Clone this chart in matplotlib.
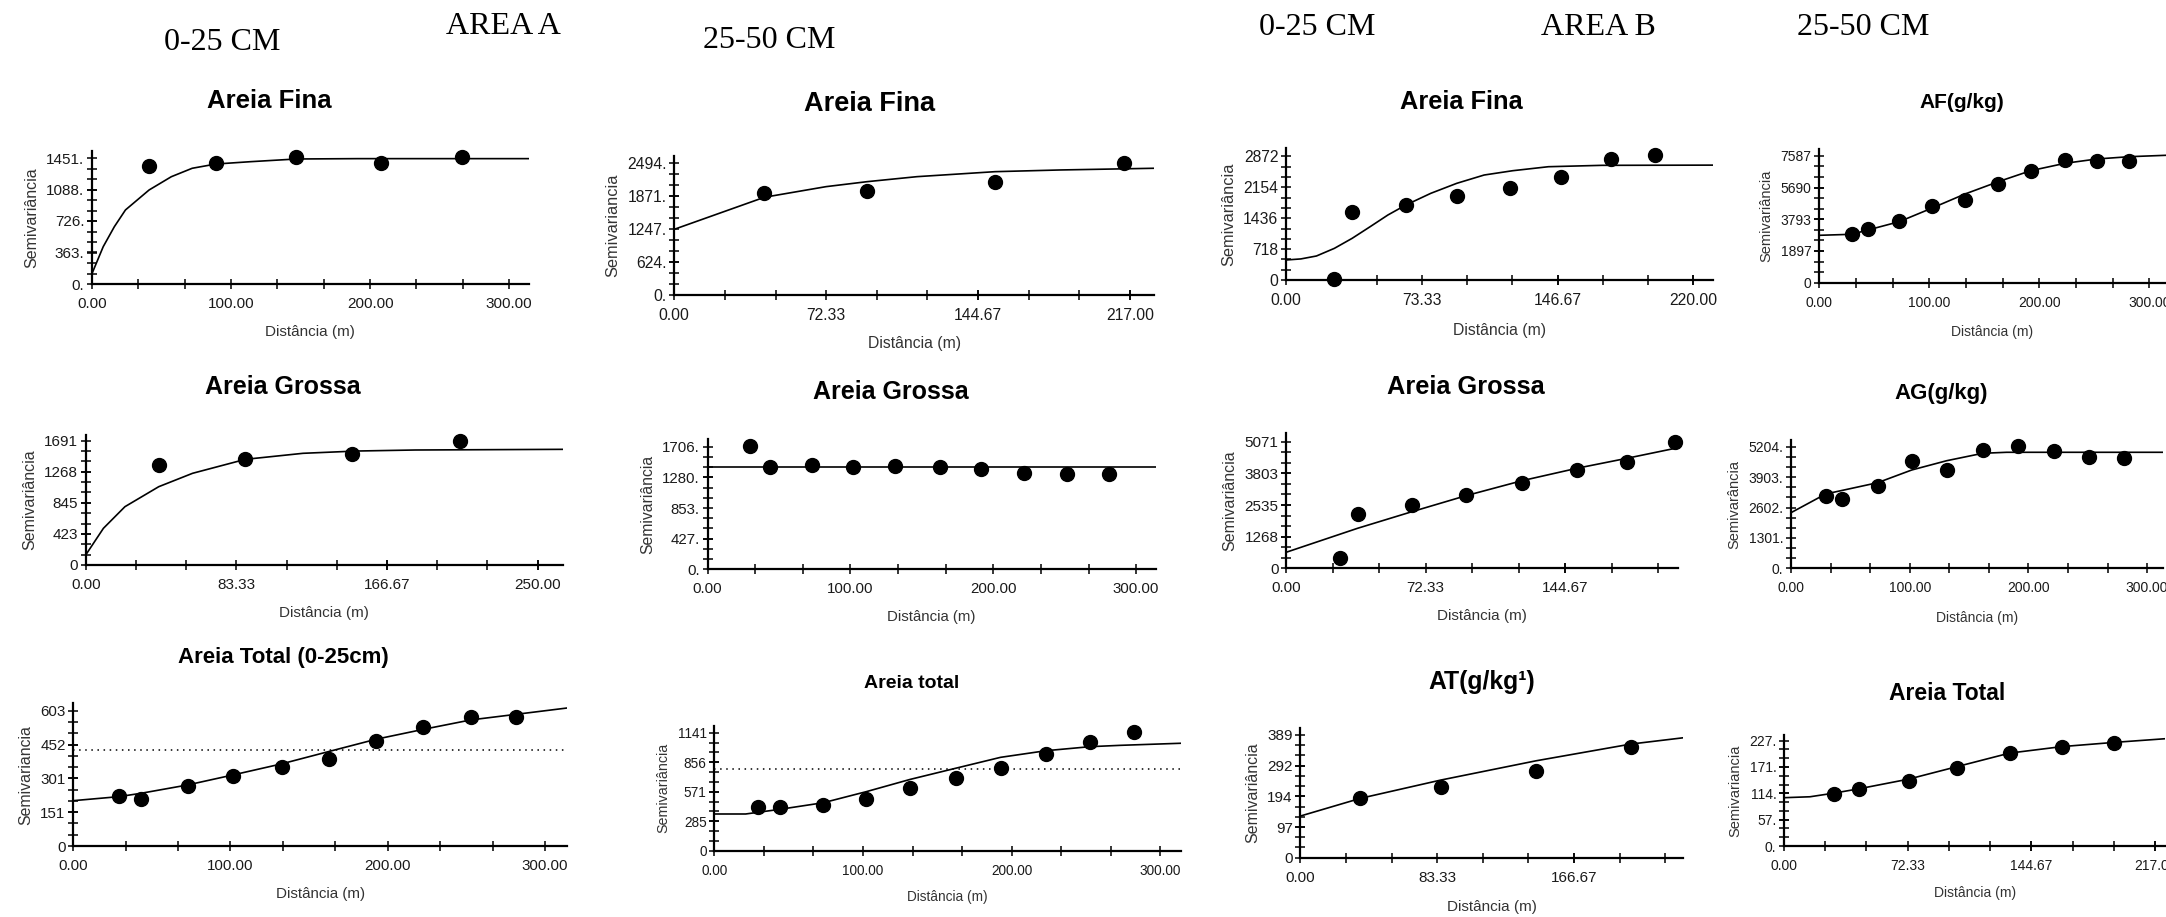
import numpy as np
import matplotlib
matplotlib.use("Agg")
import matplotlib.pyplot as plt

# ---- data (lag in m, semivariance) ----
# Area A, 0-25 cm, Areia Fina
A0_fina_lag = [41, 89, 147, 208, 266]
A0_fina_gamma = [1359, 1393, 1462, 1393, 1462]
A0_fina_model_lag = [0, 8, 16, 24, 41, 57, 72, 89, 114, 147, 191, 314]
A0_fina_model_gamma = [123, 430, 660, 853, 1083, 1236, 1333, 1382, 1409, 1440, 1444, 1444]
A0_fina_yticks = [0, 363, 726, 1088, 1451]
A0_fina_xticks = [0, 100, 200, 300]

# Area A, 25-50 cm, Areia Fina
A25_fina_lag = [42.9, 91.9, 152.8, 214]
A25_fina_gamma = [1915, 1964, 2134, 2491]
A25_fina_model_lag = [0, 42.9, 72.3, 91.9, 115.6, 152.8, 183.8, 228.5]
A25_fina_model_gamma = [1237, 1840, 2040, 2134, 2228, 2322, 2354, 2386]
A25_fina_yticks = [0, 624, 1247, 1871, 2494]
A25_fina_xticks = [0, 72.33, 144.67, 217]

# Area B, 0-25 cm, Areia Fina
B0_fina_lag = [26.1, 35.7, 64.7, 92.2, 121.2, 148.6, 175.6, 199.4]
B0_fina_gamma = [16, 1580, 1743, 1952, 2130, 2387, 2805, 2905]
B0_fina_model_lag = [0, 8, 16.4, 26.1, 35.7, 45.4, 55, 64.7, 78.2, 92.2, 107, 122.4, 141.7, 170.6, 230.8]
B0_fina_model_gamma = [465, 490, 558, 736, 969, 1239, 1511, 1743, 2015, 2247, 2440, 2540, 2633, 2665, 2670]
B0_fina_yticks = [0, 718, 1436, 2154, 2872]
B0_fina_xticks = [0, 73.33, 146.67, 220]

# Area B, 25-50 cm, AF(g/kg)
B25_af_lag = [29.4, 44.5, 72.7, 102, 132.5, 162.7, 192.2, 223.4, 252.2, 281.8]
B25_af_gamma = [2894, 3229, 3690, 4587, 4946, 5903, 6698, 7338, 7298, 7298]
B25_af_model_lag = [0, 29.4, 72.7, 102, 132.5, 162.7, 192.2, 223.4, 252.2, 281.8, 315]
B25_af_model_gamma = [2834, 2894, 3650, 4449, 5305, 6040, 6698, 7140, 7397, 7535, 7618]
B25_af_yticks = [0, 1897, 3793, 5690, 7587]
B25_af_xticks = [0, 100, 200, 300]

# Area A, 0-25 cm, Areia Grossa
A0_grossa_lag = [40.4, 88.3, 147.4, 207.3]
A0_grossa_gamma = [1360, 1437, 1510, 1691]
A0_grossa_model_lag = [0, 9.8, 21.7, 40.4, 59.1, 88.3, 120.2, 149.8, 182.3, 264]
A0_grossa_model_gamma = [136, 499, 793, 1065, 1247, 1437, 1519, 1550, 1564, 1573]
A0_grossa_yticks = [0, 423, 845, 1268, 1691]
A0_grossa_xticks = [0, 83.33, 166.67, 250]

# Area A, 25-50 cm, Areia Grossa
A25_grossa_lag = [29.9, 44, 72.9, 102, 131, 162.4, 191.5, 221.4, 251.7, 281]
A25_grossa_gamma = [1716, 1420, 1452, 1420, 1438, 1420, 1392, 1336, 1322, 1322]
A25_grossa_model_lag = [0, 313.7]
A25_grossa_model_gamma = [1428, 1428]
A25_grossa_yticks = [0, 427, 853, 1280, 1706]
A25_grossa_xticks = [0, 100, 200, 300]

# Area B, 0-25 cm, Areia Grossa
B0_grossa_lag = [27.8, 37, 65.2, 93.2, 122.2, 150.6, 176.5, 201.5]
B0_grossa_gamma = [400, 2175, 2536, 2936, 3405, 3938, 4271, 5060]
B0_grossa_model_lag = [0, 37, 65.2, 93.2, 122.2, 150.6, 176.5, 203]
B0_grossa_model_gamma = [641, 1602, 2268, 2909, 3509, 4006, 4406, 4830]
B0_grossa_yticks = [0, 1268, 2535, 3803, 5071]
B0_grossa_xticks = [0, 72.33, 144.67]

# Area B, 25-50 cm, AG(g/kg)
B25_ag_lag = [29.2, 43.2, 73, 101.7, 131.2, 161.5, 191.5, 221.8, 251, 280.8]
B25_ag_gamma = [3094, 2966, 3535, 4592, 4207, 5063, 5247, 5020, 4777, 4708]
B25_ag_model_lag = [0, 29.2, 73, 101.7, 131.2, 161.5, 181.7, 313]
B25_ag_model_gamma = [2380, 3180, 3664, 4207, 4605, 4922, 4965, 4965]
B25_ag_yticks = [0, 1301, 2602, 3903, 5204]
B25_ag_xticks = [0, 100, 200, 300]

# Area A, 0-25 cm, Areia Total
A0_total_lag = [29.1, 43.2, 72.7, 101.8, 132.5, 162.5, 192.7, 222.7, 252.9, 281.8]
A0_total_gamma = [223, 208, 268, 312, 354, 387, 470, 529, 577, 577]
A0_total_model_lag = [0, 29.1, 43.2, 72.7, 101.8, 132.5, 162.5, 192.7, 222.7, 252.9, 281.8, 314]
A0_total_model_gamma = [202, 220, 235, 272, 317, 366, 421, 476, 520, 562, 587, 615]
A0_total_var = 428
A0_total_yticks = [0, 151, 301, 452, 603]
A0_total_xticks = [0, 100, 200, 300]

# Area A, 25-50 cm, Areia total
A25_total_lag = [29.6, 44, 73.3, 102.2, 131.8, 162.2, 192.5, 223, 252.6, 282]
A25_total_gamma = [420, 420, 442, 497, 603, 706, 797, 935, 1048, 1145]
A25_total_model_lag = [0, 21.1, 44, 73.3, 102.2, 131.8, 162.2, 192.5, 223, 252.6, 273, 313.6]
A25_total_model_gamma = [355, 355, 400, 464, 571, 690, 797, 903, 967, 1006, 1019, 1039]
A25_total_var = 790
A25_total_yticks = [0, 285, 571, 856, 1141]
A25_total_xticks = [0, 100, 200, 300]

# Area B, 0-25 cm, AT(g/kg1)
B0_at_lag = [36.5, 85.5, 143.5, 201.2]
B0_at_gamma = [188, 225, 275, 352]
B0_at_model_lag = [0, 36.5, 85.5, 143.5, 201.2, 233.2]
B0_at_model_gamma = [132, 188, 246, 307, 360, 380]
B0_at_yticks = [0, 97, 194, 292, 389]
B0_at_xticks = [0, 83.33, 166.67]

# Area B, 25-50 cm, Areia Total
B25_total_lag = [29.5, 43.6, 72.9, 101.3, 131.9, 162.5, 192.8]
B25_total_gamma = [112, 122, 140, 168, 200, 213, 222]
B25_total_model_lag = [0, 15.2, 29.5, 43.6, 72.9, 101.3, 131.9, 162.5, 192.8, 223]
B25_total_model_gamma = [104, 106, 114, 123, 144, 171, 200, 214, 223, 231]
B25_total_yticks = [0, 57, 114, 171, 227]
B25_total_xticks = [0, 72.33, 144.67, 217]

W, H = 2166, 917
plt.rcParams['font.family'] = 'Liberation Sans'
fig = plt.figure(figsize=(W / 100, H / 100), dpi=100)


def panel(box, xmax, ymax, lag, gamma, mlag, mgamma, xt, yt, dot, ylab, title, tpos,
          tsize, fs, lpad, var=None):
    x0, x1, top, bot = box
    ax = fig.add_axes([x0 / W, 1 - bot / H, (x1 - x0) / W, (bot - top) / H])
    ax.plot(mlag, mgamma, color='black', lw=1.2, zorder=2)
    ax.plot(lag, gamma, 'o', color='black', ms=10, zorder=3, clip_on=False)
    if var is not None:
        ax.axhline(var, color='black', lw=1.1, ls=(0, (1, 3)))
    ax.set_xlim(0, xmax)
    ax.set_ylim(0, ymax)
    ax.set_xticks(xt)
    ax.set_xticklabels(['%.2f' % v for v in xt])
    ax.set_xticks(np.arange(0, xmax, xt[1] / 3), minor=True)
    ax.set_yticks(yt)
    ax.set_yticklabels([('%d.' if dot else '%d') % v for v in yt])
    ax.set_yticks(np.arange(0, ymax, yt[-1] / (len(yt) - 1) / 3), minor=True)
    for s in ['top', 'right']:
        ax.spines[s].set_visible(False)
    for s in ['left', 'bottom']:
        ax.spines[s].set_linewidth(1.6)
    ax.tick_params(which='both', direction='inout', length=7, width=1.1,
                   labelsize=fs, labelcolor='#1a1a1a')
    ax.tick_params(axis='x', pad=6)
    ax.tick_params(axis='y', pad=2)
    ax.set_xlabel('Distância (m)', fontsize=fs, color='#333333', labelpad=lpad)
    ax.set_ylabel(ylab, fontsize=fs + 0.5, color='#333333', labelpad=5)
    fig.text(tpos[0] / W, 1 - tpos[1] / H, title, ha='center', va='center',
             fontsize=tsize, fontweight='bold')
    return ax


panel((92.1, 528.6, 151, 284), 314, 1532, A0_fina_lag, A0_fina_gamma, A0_fina_model_lag,
      A0_fina_model_gamma, A0_fina_xticks, A0_fina_yticks, True, 'Semivariância',
      'Areia Fina', (269, 101), 18.5, 11, 10)
panel((674.3, 1154, 156, 295), 228.5, 2617, A25_fina_lag, A25_fina_gamma, A25_fina_model_lag,
      A25_fina_model_gamma, A25_fina_xticks, A25_fina_yticks, True, 'Semivariancia',
      'Areia Fina', (869.5, 104), 19.5, 11.3, 9)
panel((1286.1, 1713.3, 148.3, 280), 230.8, 3061, B0_fina_lag, B0_fina_gamma, B0_fina_model_lag,
      B0_fina_model_gamma, B0_fina_xticks, B0_fina_yticks, False, 'Semivariância',
      'Areia Fina', (1461, 102), 18.3, 11.3, 11)
panel((1819.3, 2165.8, 149.3, 282.7), 315, 7977, B25_af_lag, B25_af_gamma, B25_af_model_lag,
      B25_af_model_gamma, B25_af_xticks, B25_af_yticks, False, 'Semivariância',
      'AF(g/kg)', (1962, 103), 15, 10, 11)
panel((85.7, 563, 435, 565), 264, 1768, A0_grossa_lag, A0_grossa_gamma, A0_grossa_model_lag,
      A0_grossa_model_gamma, A0_grossa_xticks, A0_grossa_yticks, False, 'Semivariância',
      'Areia Grossa', (282.7, 387), 18, 11, 10)
panel((707.5, 1155.7, 439.3, 569.3), 313.7, 1810, A25_grossa_lag, A25_grossa_gamma,
      A25_grossa_model_lag, A25_grossa_model_gamma, A25_grossa_xticks, A25_grossa_yticks,
      True, 'Semivariância', 'Areia Grossa', (891.3, 392), 18, 10.8, 10)
panel((1286.1, 1678, 433.3, 568.3), 203, 5408, B0_grossa_lag, B0_grossa_gamma,
      B0_grossa_model_lag, B0_grossa_model_gamma, B0_grossa_xticks, B0_grossa_yticks,
      False, 'Semivariância', 'Areia Grossa', (1465.5, 387), 18.3, 11, 10)
panel((1791, 2162.5, 440, 568.3), 313, 5491, B25_ag_lag, B25_ag_gamma, B25_ag_model_lag,
      B25_ag_model_gamma, B25_ag_xticks, B25_ag_yticks, True, 'Semivarância',
      'AG(g/kg)', (1941, 393), 16, 10, 11)
panel((73.2, 567, 703.3, 846), 314, 636, A0_total_lag, A0_total_gamma, A0_total_model_lag,
      A0_total_model_gamma, A0_total_xticks, A0_total_yticks, False, 'Semivariancia',
      'Areia Total (0-25cm)', (283.4, 657), 16, 10.9, 10, var=A0_total_var)
panel((714.3, 1180.7, 726, 850.7), 313.6, 1206, A25_total_lag, A25_total_gamma,
      A25_total_model_lag, A25_total_model_gamma, A25_total_xticks, A25_total_yticks,
      False, 'Semivariância', 'Areia total', (911.4, 683), 14, 9.8, 9, var=A25_total_var)
panel((1300.4, 1683.3, 728.3, 857.7), 233.2, 410, B0_at_lag, B0_at_gamma, B0_at_model_lag,
      B0_at_model_gamma, B0_at_xticks, B0_at_yticks, False, 'Semivariância',
      'AT(g/kg¹)', (1481.6, 682), 17.8, 11, 11)
panel((1784, 2165.3, 735, 846), 223, 239, B25_total_lag, B25_total_gamma,
      B25_total_model_lag, B25_total_model_gamma, B25_total_xticks, B25_total_yticks,
      True, 'Semivariancia', 'Areia Total', (1946.7, 693), 16.5, 10, 9)

# depth / area headings
heads = [('0-25 CM', 164, 50), ('AREA A', 446, 34), ('25-50 CM', 703, 48),
         ('0-25 CM', 1259, 35), ('AREA B', 1541, 35), ('25-50 CM', 1797, 35)]
for txt, x, y in heads:
    fig.text(x / W, 1 - y / H, txt, ha='left', va='baseline',
             fontfamily='Liberation Serif', fontsize=23)

fig.savefig('out.png', dpi=100)
